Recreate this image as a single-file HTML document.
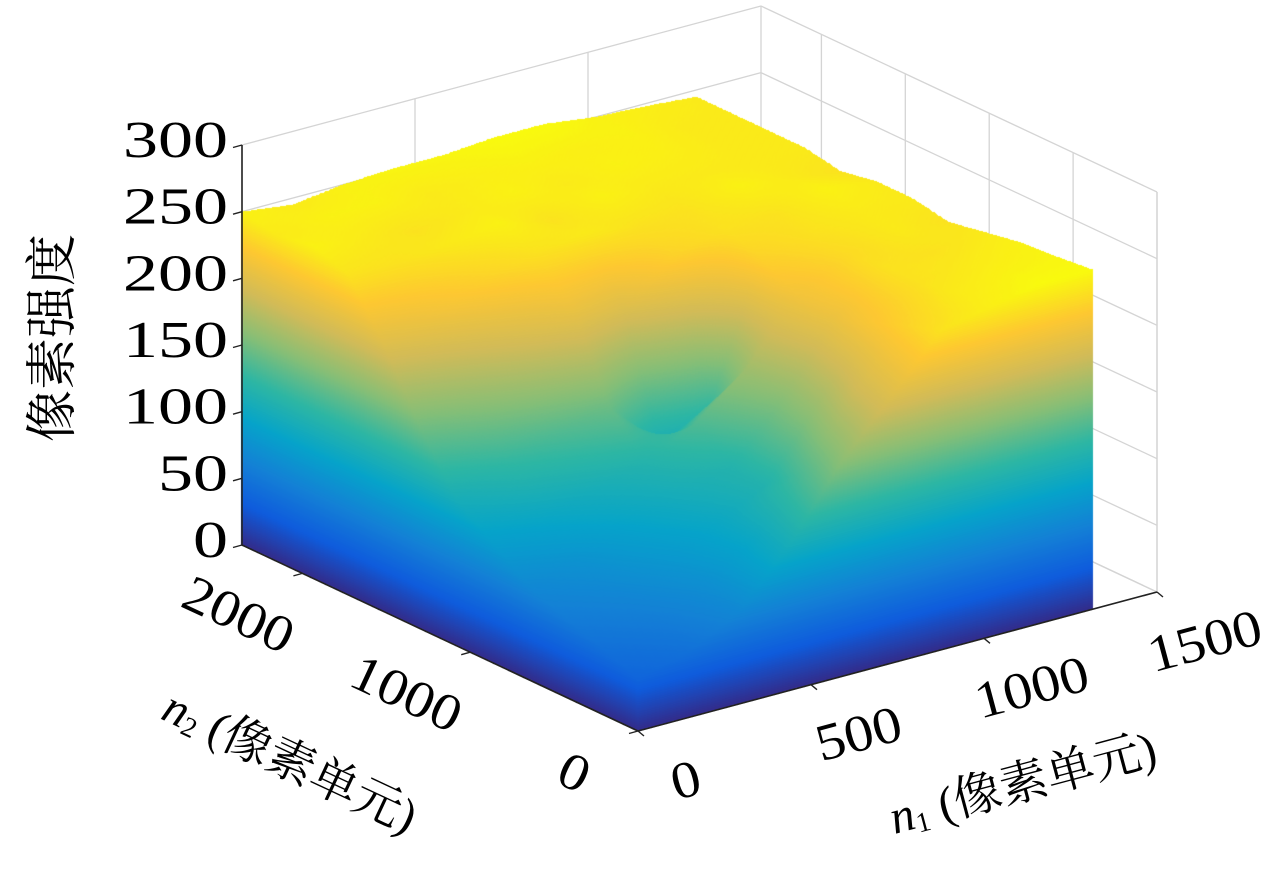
<!DOCTYPE html>
<html><head><meta charset="utf-8">
<style>
html,body{margin:0;padding:0;background:#fff;}
#wrap{position:relative;width:1280px;height:872px;overflow:hidden;background:#fff;}
svg,canvas{position:absolute;left:0;top:0;}
text{font-family:"Liberation Serif","Noto Serif CJK SC",serif;fill:#000;}
</style></head>
<body>
<div id="wrap">
<svg id="back" width="1280" height="872"></svg>
<canvas id="surf" width="1280" height="872"></canvas>
<svg id="front" width="1280" height="872">
  <text x="58" y="338" font-size="52" text-anchor="middle" transform="rotate(-90 58 338)" dominant-baseline="middle">像素强度</text>
  <g transform="translate(288 766) rotate(25)">
    <text x="0" y="0" font-size="48" text-anchor="middle" dominant-baseline="middle"><tspan font-style="italic">n</tspan><tspan font-size="28" dy="10">2</tspan><tspan dy="-10"> (像素单元)</tspan></text>
  </g>
  <g transform="translate(1024 788) rotate(-15)">
    <text x="0" y="0" font-size="48" text-anchor="middle" dominant-baseline="middle"><tspan font-style="italic">n</tspan><tspan font-size="28" dy="10">1</tspan><tspan dy="-10"> (像素单元)</tspan></text>
  </g>
</svg>
</div>
<script>
// ---- data ----
const n1Vals = [0,146,292,437,583,729,875,1021,1166,1312];
const n2Vals = [0,214,429,643,858,1073,1287,1502,1716,1931,2145,2360];
const heights = [
 [40,50,60,70,90,110,150,200,240,250,245,250],
 [50,60,70,80,100,130,170,215,240,245,250,245],
 [70,75,85,95,110,140,190,230,245,240,250,250],
 [110,100,100,110,120,150,210,240,250,245,245,252],
 [160,140,120,120,140,110,200,245,240,250,248,252],
 [200,190,170,160,170,130,230,240,250,245,250,255],
 [240,230,220,210,215,230,240,240,245,250,248,255],
 [248,245,240,240,235,240,240,250,245,248,250,250],
 [255,250,245,240,245,245,250,245,245,245,245,248],
 [255,252,250,245,240,245,245,240,245,245,245,245]
];
const zTicks = [0,50,100,150,200,250,300];
const n1Ticks = [0,500,1000,1500];
const n2Ticks = [0,1000,2000];
const n2Grid = [0,500,1000,1500,2000];
const n1Max = 1500, n2Max = 2360, zMax = 300;
const dataN1Max = 1312;

// ---- projection ----
const O = {x:638, y:731};
const A1 = {x:(1157-638)/1500, y:-(731-592)/1500};
const A2 = {x:-(638-242)/2360, y:-(731-545)/2360};
const KZ = 400/300;
function P(n1,n2,z){ return {x:O.x+n1*A1.x+n2*A2.x, y:O.y+n1*A1.y+n2*A2.y-z*KZ}; }

const NS="http://www.w3.org/2000/svg";
function line(svg,a,b,stroke,w,name){
  const l=document.createElementNS(NS,'line');
  l.setAttribute('x1',a.x);l.setAttribute('y1',a.y);l.setAttribute('x2',b.x);l.setAttribute('y2',b.y);
  l.setAttribute('stroke',stroke);l.setAttribute('stroke-width',w);
  
  
  svg.appendChild(l);
}
const back=document.getElementById('back'), front=document.getElementById('front');
const G='#d4d4d4';
zTicks.forEach(z=>{
  line(back,P(0,n2Max,z),P(n1Max,n2Max,z),G,1.3,'grid-line-z');
  line(back,P(n1Max,n2Max,z),P(n1Max,0,z),G,1.3,'grid-line-z');
});
n1Ticks.forEach(v=>{
  line(back,P(v,n2Max,0),P(v,n2Max,zMax),G,1.3,'grid-line-n1');
  line(back,P(v,0,0),P(v,n2Max,0),G,1.3,'floor-grid-n1');
});
n2Grid.forEach(v=>{
  line(back,P(n1Max,v,0),P(n1Max,v,zMax),G,1.3,'grid-line-n2');
  line(back,P(0,v,0),P(n1Max,v,0),G,1.3,'floor-grid-n2');
});
line(back,P(n1Max,0,0),P(n1Max,0,zMax),G,1.3,'grid-edge');

// ---- surface ----
const stops=['#352a87','#0f5cdd','#1481d6','#06a4ca','#2eb7a4','#87bf77','#d1bb59','#fec832','#f9fb0e'];
const strip=document.createElement('canvas');strip.width=1;strip.height=256;
const sc=strip.getContext('2d');
const gr=sc.createLinearGradient(0,256,0,0);
stops.forEach((c,i)=>gr.addColorStop(i/(stops.length-1),c));
sc.fillStyle=gr;sc.fillRect(0,0,1,256);

function idx(vals,v){let i=0;while(i<vals.length-2&&v>vals[i+1])i++;return i;}
function H(n1,n2){
  const i=idx(n1Vals,n1), j=idx(n2Vals,n2);
  const t=(n1-n1Vals[i])/(n1Vals[i+1]-n1Vals[i]), u=(n2-n2Vals[j])/(n2Vals[j+1]-n2Vals[j]);
  return heights[i][j]*(1-t)*(1-u)+heights[i+1][j]*t*(1-u)+heights[i][j+1]*(1-t)*u+heights[i+1][j+1]*t*u;
}
const ctx=document.getElementById('surf').getContext('2d');
const S1=280,S2=320, cols=[];
for(let a=0;a<=S1;a++)for(let b=0;b<=S2;b++){
  const n1=dataN1Max*a/S1, n2=n2Max*b/S2;
  const p=P(n1,n2,0);
  cols.push([p.x,p.y,Math.min(255,H(n1,n2))]);
}
cols.sort((p,q)=>p[1]-q[1]);
for(const c of cols){
  const h=c[2]; if(h<=0)continue;
  ctx.drawImage(strip,0,255-h,1,h,c[0]-1,c[1]-h*KZ,2.2,h*KZ);
}

// ---- axes ----
line(front,P(0,n2Max,0),P(0,n2Max,zMax),'#222',1.6,'z-axis-line');
line(front,P(0,0,0),P(0,n2Max,0),'#222',1.6,'n2-axis-line');
line(front,P(0,0,0),P(n1Max,0,0),'#222',1.6,'n1-axis-line');
function txt(x,y,s,rot,anchor,name,per){
  const t=document.createElementNS(NS,'text');
  t.setAttribute('x',x);t.setAttribute('y',y);t.setAttribute('font-size','52');
  t.setAttribute('text-anchor',anchor);t.setAttribute('dominant-baseline','middle');
  t.setAttribute('textLength',String(s.length*per));
  t.setAttribute('lengthAdjust','spacingAndGlyphs');
  if(rot)t.setAttribute('transform','rotate('+rot+' '+x+' '+y+')');
  t.textContent=s;
  
  
  front.appendChild(t);
}
zTicks.forEach(z=>{
  const p=P(0,n2Max,z);
  line(front,p,{x:p.x-9,y:p.y+2.5},'#222',1.4,'z-tick');
  txt(p.x-14,p.y,String(z),0,'end','z-tick-label',35);
});
n2Ticks.forEach(v=>{
  const p=P(0,v,0);
  line(front,p,{x:p.x-9,y:p.y+2.5},'#222',1.4,'n2-tick');
  txt(p.x-66,p.y+46,String(v),25,'middle','n2-tick-label',29);
});
n1Ticks.forEach(v=>{
  const p=P(v,0,0);
  line(front,p,{x:p.x+6,y:p.y+5},'#222',1.4,'n1-tick');
  txt(p.x+49,p.y+54,String(v),-15,'middle','n1-tick-label',29);
});
</script>
</body></html>
